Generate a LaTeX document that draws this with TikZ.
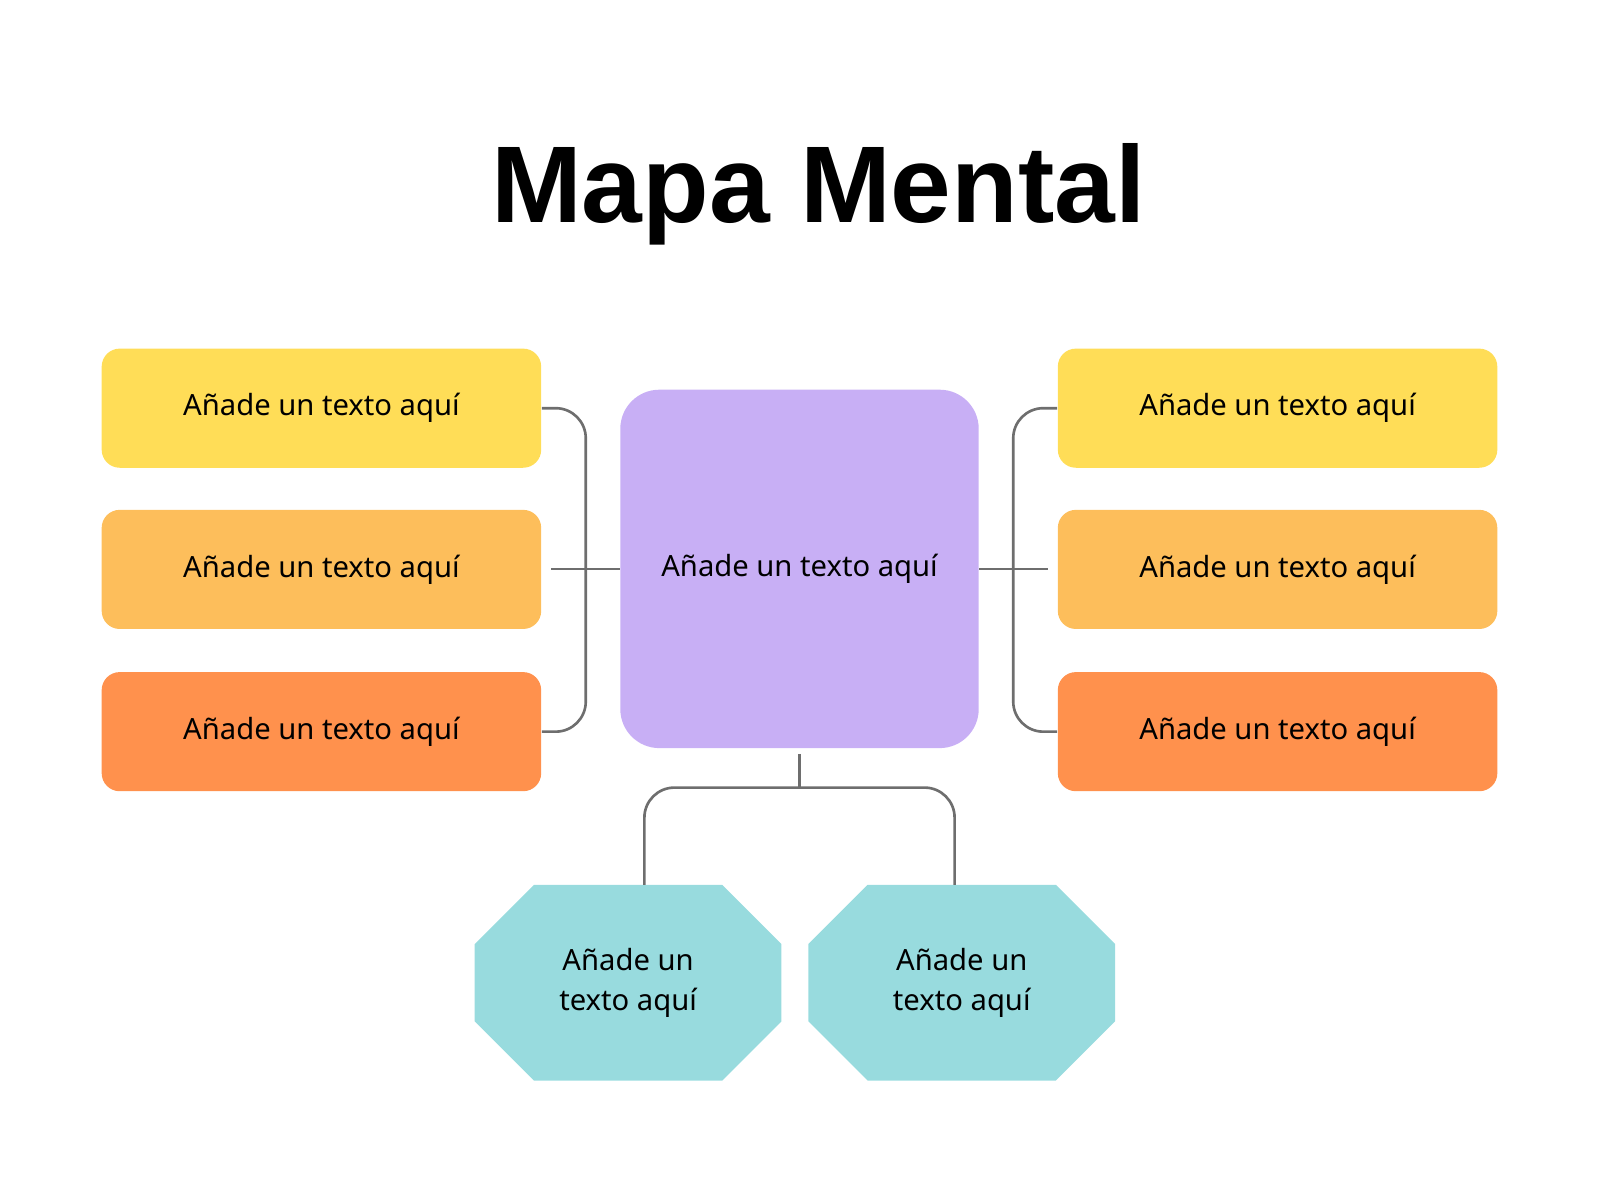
\documentclass[tikz,border=0pt]{standalone}
\usepackage{fontspec}
\setmainfont{Noto Sans}
\newfontfamily\titulofont{Liberation Sans}
\usetikzlibrary{calc}
\usetikzlibrary{backgrounds}
\definecolor{amarillo}{HTML}{FFDD57}
\definecolor{naranjac}{HTML}{FDBE5B}
\definecolor{naranja}{HTML}{FF914D}
\definecolor{lila}{HTML}{C8AFF5}
\definecolor{turquesa}{HTML}{98DBDE}
\definecolor{linea}{HTML}{6E6E6E}
\tikzset{
    rama/.style = {rectangle, rounded corners=0.18cm, minimum width=4.39cm, minimum height=1.19cm, inner sep=0pt, font=\fontsize{8.3}{10}\selectfont},
    centro/.style = {rectangle, rounded corners=0.39cm, fill=lila, minimum width=3.58cm, minimum height=3.58cm, inner sep=0pt, font=\fontsize{8.3}{10}\selectfont},
    hoja/.style = {rectangle, minimum width=3.05cm, minimum height=1.94cm, inner sep=0pt, align=center, font=\fontsize{8.3}{11.5}\selectfont},
    enlace/.style = {draw=linea, line width=0.75pt, rounded corners=0.3cm},
}
\begin{document}
\begin{tikzpicture}[x=0.0102cm, y=-0.0102cm]
  \useasboundingbox (0,0) rectangle (1568,1176);
  \node[font=\fontsize{31}{34}\selectfont\titulofont\bfseries] (titulo) at (802,190) {Mapa Mental};
  % centro
  \node[centro] (c) at (783.5,557.5) {Añade un texto aquí};
  % ramas izquierda
  \node[rama, fill=amarillo] (l1) at (315,400) {Añade un texto aquí};
  \node[rama, fill=naranjac] (l2) at (315,558) {Añade un texto aquí};
  \node[rama, fill=naranja] (l3) at (315,717) {Añade un texto aquí};
  % ramas derecha
  \node[rama, fill=amarillo] (r1) at (1252,400) {Añade un texto aquí};
  \node[rama, fill=naranjac] (r2) at (1252,558) {Añade un texto aquí};
  \node[rama, fill=naranja] (r3) at (1252,717) {Añade un texto aquí};
  % hojas abajo
  \node[hoja] (b1) at (615.5,963) {Añade un\\texto aquí};
  \node[hoja] (b2) at (942.5,963) {Añade un\\texto aquí};
  \begin{scope}[on background layer]
    \foreach \h in {b1,b2}
      \fill[turquesa] ($(\h.north west)+(58,0)$) -- ($(\h.north east)+(-58,0)$)
        -- ($(\h.north east)+(0,58)$) -- ($(\h.south east)+(0,-58)$)
        -- ($(\h.south east)+(-58,0)$) -- ($(\h.south west)+(58,0)$)
        -- ($(\h.south west)+(0,-58)$) -- ($(\h.north west)+(0,58)$) -- cycle;
  \end{scope}
  % conectores
  \draw[enlace] (l1.east) -- ++(43,0) |- (l3.east);
  \draw[enlace] (c.west) -- ++(-67,0);
  \draw[enlace] (r1.west) -- ++(-43,0) |- (r3.west);
  \draw[enlace] (c.east) -- ++(67,0);
  \coordinate (j) at ($(c.south)+(0,38)$);
  \draw[enlace] ($(c.south)+(0,5)$) -- (j);
  \draw[enlace] ($(b1.north)+(16,0)$) |- (j) -| ($(b2.north)+(-7,0)$);
\end{tikzpicture}
\end{document}
